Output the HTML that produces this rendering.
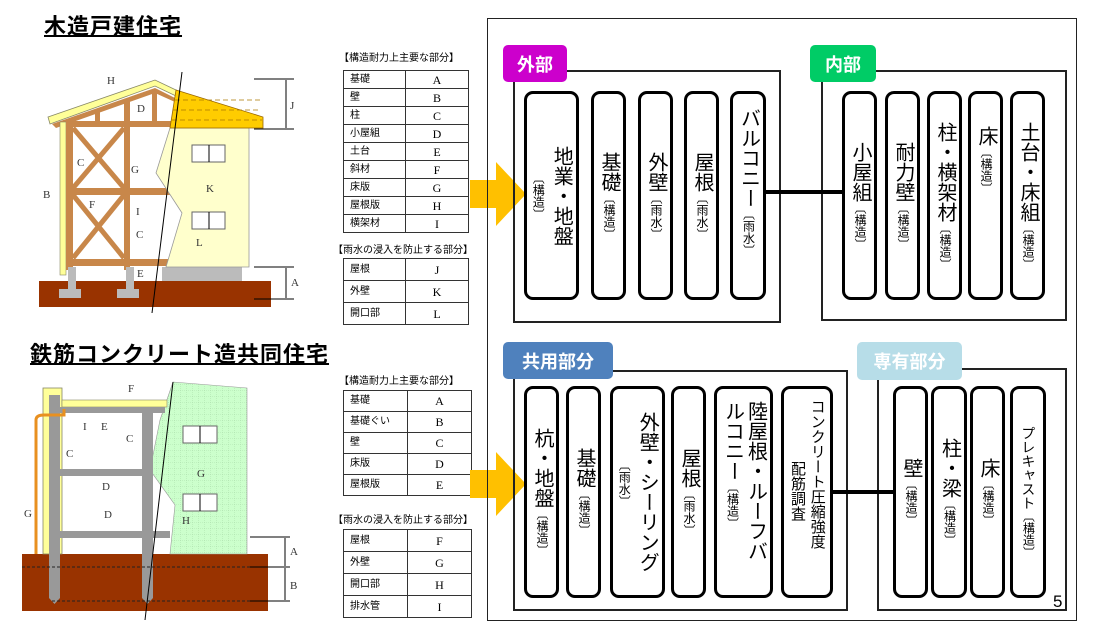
<!DOCTYPE html>
<html><head><meta charset="utf-8">
<style>
*{margin:0;padding:0;box-sizing:border-box}
body{width:1096px;height:641px;background:#fff;position:relative;overflow:hidden;font-family:"Liberation Sans","Noto Sans CJK JP",sans-serif;color:#000}
.a{position:absolute}
.title{font-weight:bold;font-size:22px;text-decoration:underline;text-decoration-thickness:2px;white-space:nowrap;letter-spacing:1px}
.cap{font-size:10px;white-space:nowrap}
table{position:absolute;border-collapse:collapse;font-size:10px;table-layout:fixed}
td{border:1px solid #333;padding:0 0 0 6px;overflow:hidden;white-space:nowrap;line-height:1}
td+td{text-align:center;font-family:"Liberation Serif",serif;font-size:12px;padding:0}
.box{position:absolute;border:2px solid #222}
.tag{position:absolute;color:#fff;font-weight:bold;font-size:18px;border-radius:5px;display:flex;align-items:center;justify-content:center}
.p{position:absolute;border:3px solid #000;border-radius:9px;display:flex;flex-direction:row-reverse;justify-content:center;align-items:center;background:#fff}
.v{writing-mode:vertical-rl;font-size:20px;line-height:1.05;white-space:nowrap}
.s{font-size:12px}
.c{position:absolute;background:#000;height:4px}
</style></head><body>

<div class="a title" style="left:44px;top:9px">木造戸建住宅</div>
<div class="a title" style="left:30px;top:337px">鉄筋コンクリート造共同住宅</div>

<svg class="a" style="left:0;top:0" width="330" height="641">
<defs>
<pattern id="g" width="6" height="6" patternUnits="userSpaceOnUse"><rect width="6" height="6" fill="#ccffcc"/><path d="M0 0H6M0 0V6" stroke="#9c9" stroke-width="0.6" stroke-dasharray="1 1"/></pattern>
</defs>
<rect x="39" y="281" width="232" height="26" fill="#993300"/>
<rect x="162" y="267" width="80" height="14" fill="#bbb"/>
<path d="M48 117 L155 80 L176 90 L176 96 L155 86 L50 124Z" fill="#ffff99" stroke="#886" stroke-width="0.8"/>
<path d="M52 124 L155 88 L175 98 L175 102 L155 93 L56 128Z" fill="#c8874a"/>
<rect x="60" y="122" width="6" height="153" fill="#ffff99" stroke="#886" stroke-width="0.6"/>
<rect x="66" y="120" width="7" height="150" fill="#c8874a"/>
<rect x="124" y="100" width="6" height="170" fill="#c8874a"/>
<rect x="95" y="110" width="5" height="14" fill="#c8874a"/>
<rect x="152" y="90" width="5" height="34" fill="#c8874a"/>
<rect x="66" y="121" width="110" height="6" fill="#c8874a"/>
<rect x="66" y="188" width="105" height="7" fill="#c8874a"/>
<rect x="66" y="259" width="105" height="7" fill="#c8874a"/>
<path d="M73 128L124 188M124 128L73 188M73 195L124 258M124 195L73 258" stroke="#c8874a" stroke-width="5"/>
<rect x="68" y="267" width="8" height="22" fill="#bbb"/><rect x="59" y="289" width="22" height="9" fill="#bbb"/>
<rect x="126" y="267" width="8" height="22" fill="#bbb"/><rect x="117" y="289" width="22" height="9" fill="#bbb"/>
<path d="M170 128 L249 128 L249 267 L166 267 L182 213 L156 173Z" fill="#ffffcc" stroke="#999" stroke-width="0.8"/>
<path d="M176 90 L263 117 L263 128 L170 128Z" fill="#ffcc00" stroke="#996600" stroke-width="0.8"/>
<path d="M175 100h85M173 110h88M172 120h90" stroke="#aa7700" stroke-width="0.8" stroke-dasharray="5 3"/>
<line x1="182" y1="72" x2="152" y2="313" stroke="#000"/>
<rect x="192" y="145" width="33" height="17" fill="#fff" stroke="#666"/><line x1="209" y1="145" x2="209" y2="162" stroke="#000"/>
<rect x="192" y="212" width="33" height="17" fill="#fff" stroke="#666"/><line x1="209" y1="212" x2="209" y2="229" stroke="#000"/>
<path d="M254 79h40M254 129h40M254 267h40M254 299h40M286 80v48M286 268v30" stroke="#000"/>
<g font-family="Liberation Serif" font-size="11" fill="#333">
<text x="107" y="84">H</text><text x="137" y="112">D</text><text x="290" y="109">J</text><text x="77" y="166">C</text>
<text x="43" y="198">B</text><text x="131" y="173">G</text><text x="89" y="208">F</text><text x="136" y="215">I</text>
<text x="206" y="192">K</text><text x="136" y="238">C</text><text x="137" y="277">E</text><text x="196" y="246">L</text><text x="291" y="286">A</text>
</g>
<rect x="22" y="554" width="246" height="57" fill="#993300"/>
<path d="M173 382 L247 388 L247 554 L170 554 L175 505 L150 470 L160 420Z" fill="url(#g)" stroke="#999" stroke-width="0.6"/>
<rect x="43" y="388" width="19" height="166" fill="#ffff99" stroke="#886" stroke-width="0.8"/>
<rect x="62" y="400" width="105" height="7" fill="#ffff99" stroke="#886" stroke-width="0.6"/>
<rect x="60" y="407" width="105" height="6" fill="#999"/>
<rect x="60" y="469" width="85" height="7" fill="#999"/>
<rect x="60" y="531" width="110" height="7" fill="#999"/>
<path d="M49 395h11v203l-5.5 6l-5.5-6Z" fill="#999"/>
<path d="M142 410h11v188l-5.5 6l-5.5-6Z" fill="#999"/>
<path d="M36 554V420q0-5 8-5h20v-6" stroke="#e89020" stroke-width="3" fill="none"/>
<path d="M22 567h248M52 601h218" stroke="#222" stroke-dasharray="3 2"/>
<line x1="173" y1="382" x2="145" y2="620" stroke="#000"/>
<rect x="183" y="426" width="34" height="17" fill="#fff" stroke="#666"/><line x1="200" y1="426" x2="200" y2="443" stroke="#000"/>
<rect x="183" y="494" width="34" height="17" fill="#fff" stroke="#666"/><line x1="200" y1="494" x2="200" y2="511" stroke="#000"/>
<path d="M250 537h40M250 567h40M250 601h40M285 538v28M285 568v32" stroke="#000"/>
<g font-family="Liberation Serif" font-size="11" fill="#333">
<text x="128" y="392">F</text><text x="101" y="430">E</text><text x="83" y="430">I</text><text x="126" y="442">C</text>
<text x="66" y="457">C</text><text x="102" y="490">D</text><text x="104" y="518">D</text><text x="24" y="517">G</text>
<text x="197" y="477">G</text><text x="182" y="524">H</text><text x="290" y="555">A</text><text x="290" y="589">B</text>
</g>
</svg>

<div class="a cap" style="left:339px;top:49px">【構造耐力上主要な部分】</div>
<table style="left:343px;top:70px;width:126px">
<colgroup><col style="width:62px"><col></colgroup>
<tr style="height:18px"><td>基礎</td><td>A</td></tr><tr style="height:18px"><td>壁</td><td>B</td></tr><tr style="height:18px"><td>柱</td><td>C</td></tr><tr style="height:18px"><td>小屋組</td><td>D</td></tr><tr style="height:18px"><td>土台</td><td>E</td></tr><tr style="height:18px"><td>斜材</td><td>F</td></tr><tr style="height:18px"><td>床版</td><td>G</td></tr><tr style="height:18px"><td>屋根版</td><td>H</td></tr><tr style="height:18px"><td>横架材</td><td>I</td></tr>
</table>
<div class="a cap" style="left:333px;top:241px">【雨水の浸入を防止する部分】</div>
<table style="left:343px;top:258px;width:126px">
<colgroup><col style="width:62px"><col></colgroup>
<tr style="height:22px"><td>屋根</td><td>J</td></tr><tr style="height:22px"><td>外壁</td><td>K</td></tr><tr style="height:22px"><td>開口部</td><td>L</td></tr>
</table>
<div class="a cap" style="left:339px;top:372px">【構造耐力上主要な部分】</div>
<table style="left:343px;top:390px;width:129px">
<colgroup><col style="width:64px"><col></colgroup>
<tr style="height:21px"><td>基礎</td><td>A</td></tr><tr style="height:21px"><td>基礎ぐい</td><td>B</td></tr><tr style="height:21px"><td>壁</td><td>C</td></tr><tr style="height:21px"><td>床版</td><td>D</td></tr><tr style="height:21px"><td>屋根版</td><td>E</td></tr>
</table>
<div class="a cap" style="left:333px;top:511px">【雨水の浸入を防止する部分】</div>
<table style="left:343px;top:529px;width:129px">
<colgroup><col style="width:64px"><col></colgroup>
<tr style="height:22px"><td>屋根</td><td>F</td></tr><tr style="height:22px"><td>外壁</td><td>G</td></tr><tr style="height:22px"><td>開口部</td><td>H</td></tr><tr style="height:22px"><td>排水管</td><td>I</td></tr>
</table>

<svg class="a" style="left:468px;top:160px" width="60" height="380">
<path d="M2 20h26V2l30 32l-30 32V48H2Z" fill="#ffc000"/>
<path d="M2 310h26V292l30 32l-30 32V338H2Z" fill="#ffc000"/>
</svg>

<div class="box" style="left:487px;top:18px;width:590px;height:603px;border-width:1.5px"></div>

<div class="box" style="left:513px;top:70px;width:268px;height:253px"></div>
<div class="tag" style="left:503px;top:45px;width:64px;height:37px;background:#cc00cc">外部</div>
<div class="box" style="left:821px;top:70px;width:246px;height:251px"></div>
<div class="tag" style="left:810px;top:45px;width:66px;height:37px;background:#00cc66">内部</div>
<div class="c" style="left:765px;top:190px;width:78px"></div>

<div class="p" style="left:524px;top:91px;width:55px;height:209px"><div class="v">地業・地盤</div><div class="v s" style="margin-right:6px">〔構造〕</div></div>
<div class="p" style="left:591px;top:91px;width:35px;height:209px"><div class="v">基礎<span class="s">〔構造〕</span></div></div>
<div class="p" style="left:638px;top:91px;width:35px;height:209px"><div class="v">外壁<span class="s">〔雨水〕</span></div></div>
<div class="p" style="left:684px;top:91px;width:35px;height:209px"><div class="v">屋根<span class="s">〔雨水〕</span></div></div>
<div class="p" style="left:730px;top:91px;width:36px;height:209px;align-items:flex-start;padding-top:14px"><div class="v">バルコニー<span class="s">〔雨水〕</span></div></div>

<div class="p" style="left:842px;top:91px;width:35px;height:209px"><div class="v">小屋組<span class="s">〔構造〕</span></div></div>
<div class="p" style="left:885px;top:91px;width:35px;height:209px"><div class="v">耐力壁<span class="s">〔構造〕</span></div></div>
<div class="p" style="left:927px;top:91px;width:35px;height:209px"><div class="v">柱・横架材<span class="s">〔構造〕</span></div></div>
<div class="p" style="left:968px;top:91px;width:35px;height:209px;align-items:flex-start;padding-top:32px"><div class="v">床<span class="s">〔構造〕</span></div></div>
<div class="p" style="left:1010px;top:91px;width:35px;height:209px"><div class="v">土台・床組<span class="s">〔構造〕</span></div></div>

<div class="box" style="left:513px;top:370px;width:335px;height:241px"></div>
<div class="tag" style="left:503px;top:342px;width:110px;height:37px;background:#4f81bd">共用部分</div>
<div class="box" style="left:877px;top:368px;width:190px;height:243px"></div>
<div class="tag" style="left:857px;top:342px;width:105px;height:38px;background:#b7dde8">専有部分</div>
<div class="c" style="left:832px;top:490px;width:62px"></div>

<div class="p" style="left:524px;top:386px;width:35px;height:212px"><div class="v">杭・地盤<span class="s">〔構造〕</span></div></div>
<div class="p" style="left:566px;top:386px;width:35px;height:212px"><div class="v">基礎<span class="s">〔構造〕</span></div></div>
<div class="p" style="left:610px;top:386px;width:55px;height:212px"><div class="v">外壁・シーリング</div><div class="v s" style="margin-right:6px;align-self:flex-start;margin-top:70px">〔雨水〕</div></div>
<div class="p" style="left:671px;top:386px;width:35px;height:212px"><div class="v">屋根<span class="s">〔雨水〕</span></div></div>
<div class="p" style="left:714px;top:386px;width:59px;height:212px;align-items:flex-start;padding-top:12px"><div class="v">陸屋根・ルーフバ</div><div class="v" style="margin-right:2px">ルコニー<span class="s">〔構造〕</span></div></div>
<div class="p" style="left:781px;top:386px;width:52px;height:212px;align-items:flex-start;padding-top:10px"><div class="v" style="font-size:15px">コンクリート圧縮強度</div><div class="v" style="font-size:15px;margin-right:4px;margin-top:62px">配筋調査</div></div>

<div class="p" style="left:893px;top:386px;width:35px;height:212px"><div class="v">壁<span class="s">〔構造〕</span></div></div>
<div class="p" style="left:931px;top:386px;width:36px;height:212px"><div class="v">柱・梁<span class="s">〔構造〕</span></div></div>
<div class="p" style="left:970px;top:386px;width:35px;height:212px"><div class="v">床<span class="s">〔構造〕</span></div></div>
<div class="p" style="left:1010px;top:386px;width:36px;height:212px"><div class="v" style="font-size:14px">プレキャスト<span class="s">〔構造〕</span></div></div>

<div class="a" style="left:1053px;top:592px;font-size:17px">5</div>
</body></html>
